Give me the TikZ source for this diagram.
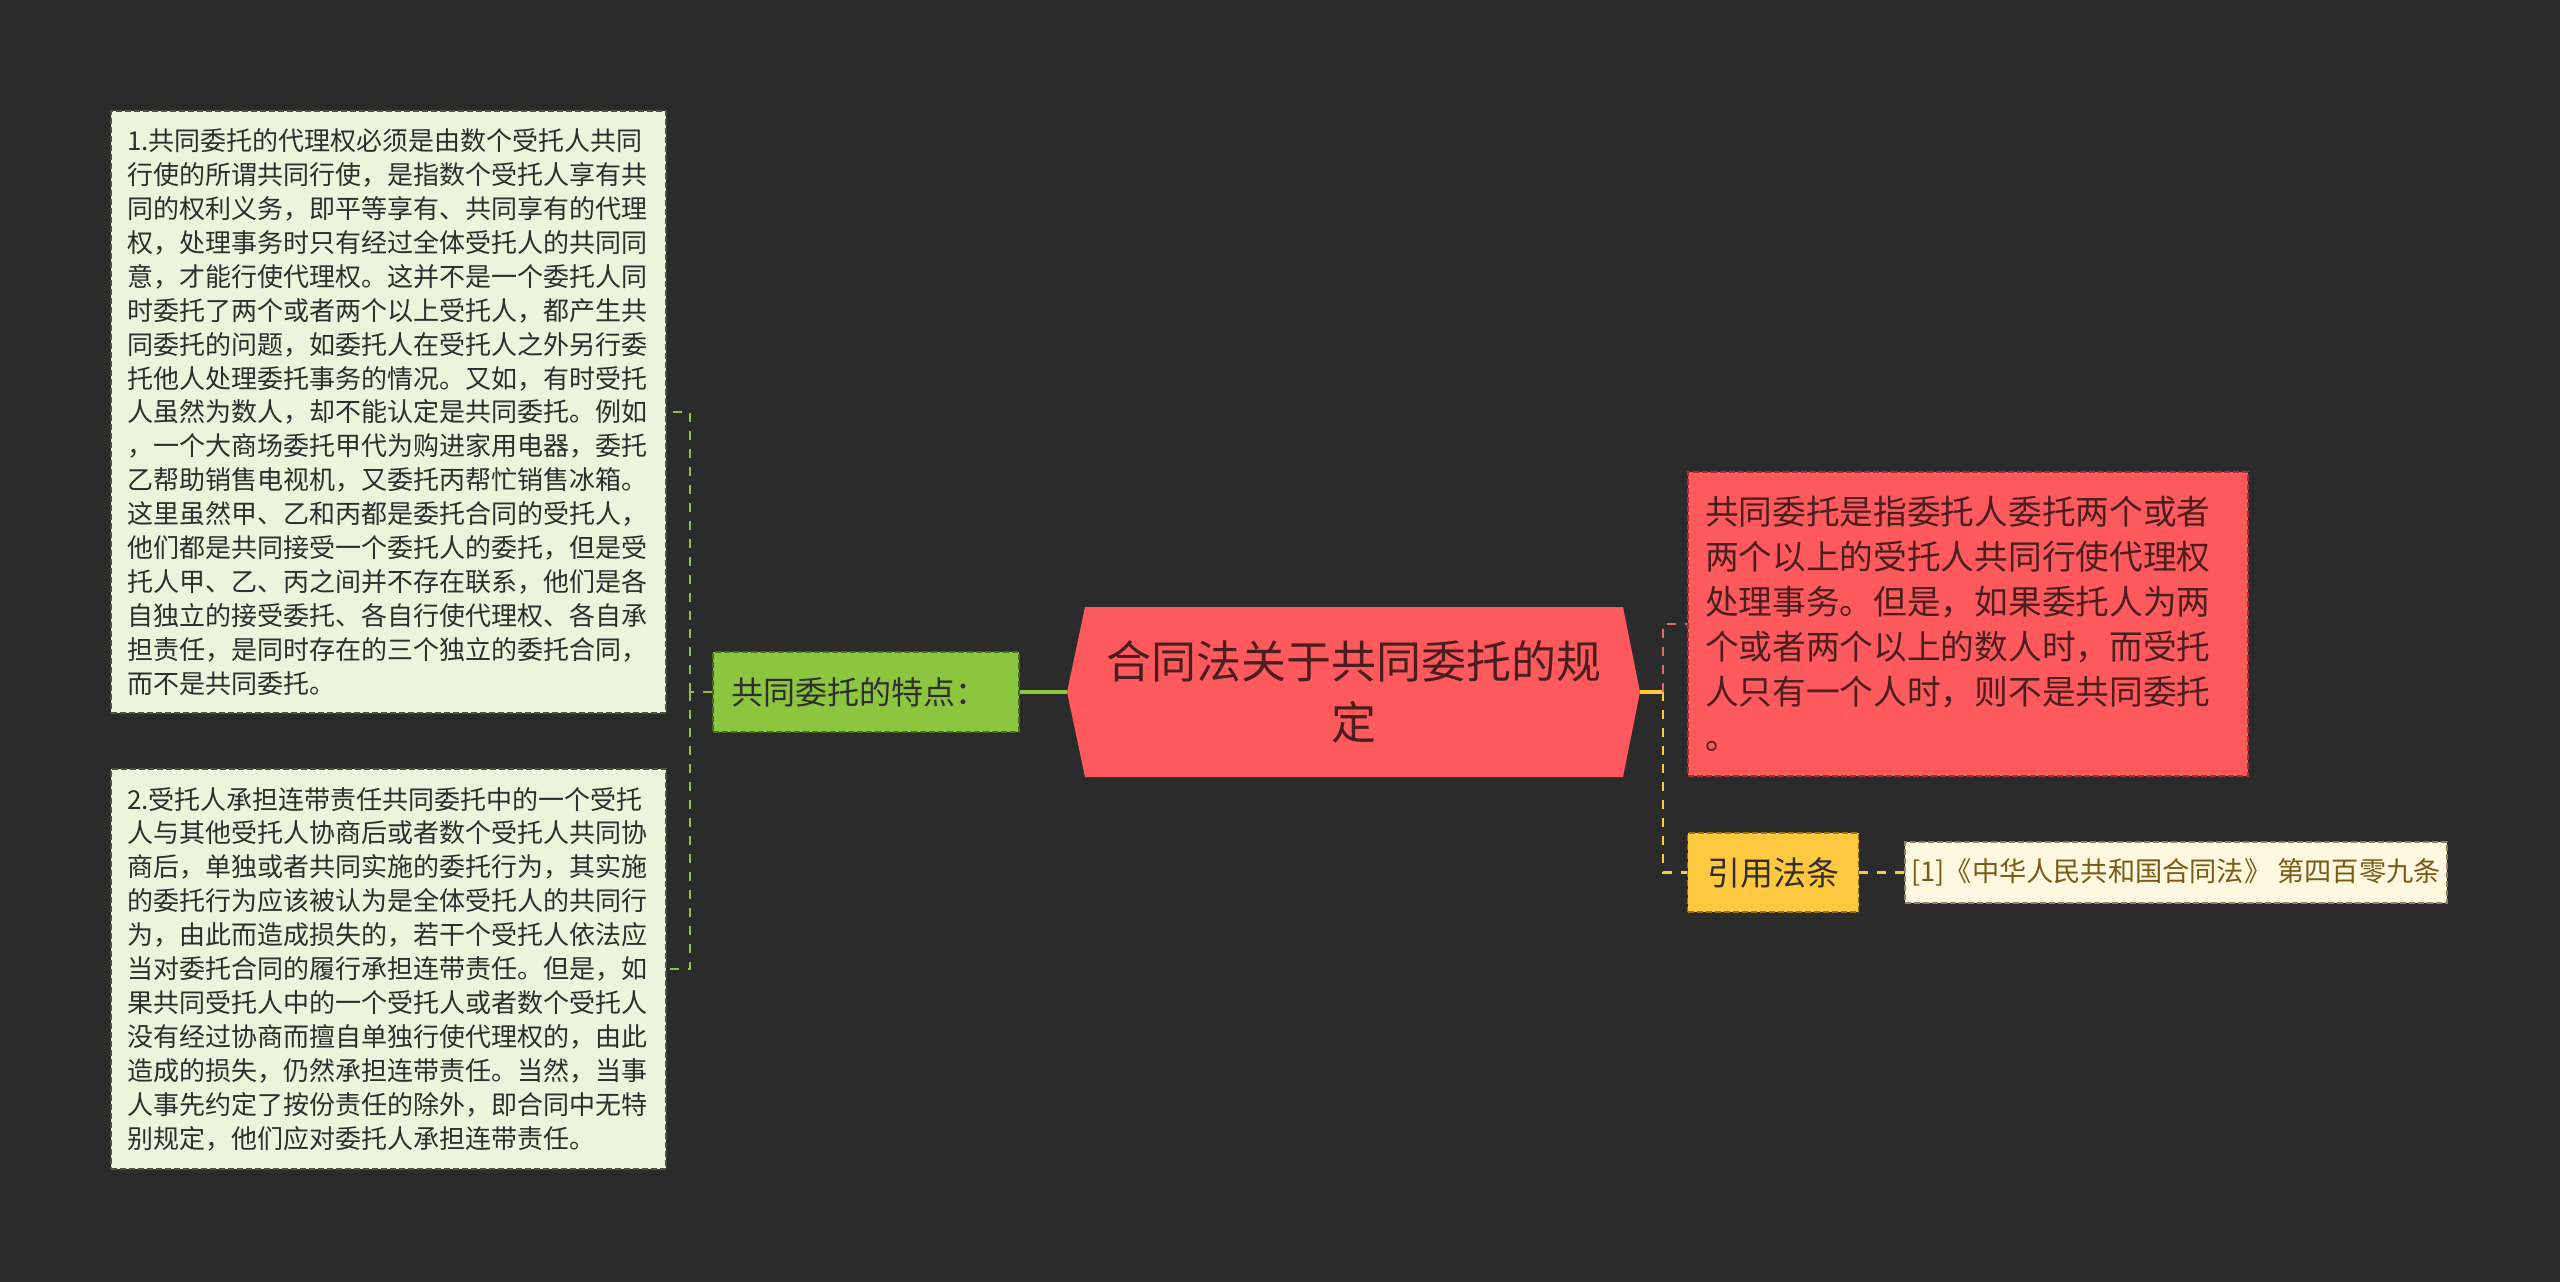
\documentclass[tikz,border=0pt]{standalone}
\usepackage{fontspec}
\setmainfont{Noto Sans CJK SC}
\definecolor{bg}{HTML}{2B2B2B}
\definecolor{leaffill}{HTML}{EAF5DC}
\definecolor{leafborder}{HTML}{4A5540}
\definecolor{textdark}{HTML}{2E2E2E}
\definecolor{featfill}{HTML}{8CC63F}
\definecolor{featborder}{HTML}{466E18}
\definecolor{rootfill}{HTML}{FE5A5E}
\definecolor{roottext}{HTML}{4A1E1F}
\definecolor{redborder}{HTML}{9E3236}
\definecolor{yelfill}{HTML}{FFC93F}
\definecolor{yelborder}{HTML}{9A720E}
\definecolor{citefill}{HTML}{FFF8E1}
\definecolor{citeborder}{HTML}{8E8060}
\definecolor{citetext}{HTML}{7A5A14}
\definecolor{gline}{HTML}{8CC63F}
\definecolor{rline}{HTML}{E06A70}
\definecolor{yline}{HTML}{FFC93F}
\begin{document}
\begin{tikzpicture}[x=1pt,y=-1pt,
  boxline/.style={dashed, dash pattern=on 6pt off 3pt, line width=1.8pt},
  leafbox/.style={boxline, draw=leafborder, fill=leaffill, text=textdark, inner sep=0pt,
     align=left, font=\fontsize{26}{33.9}\selectfont, minimum width=555pt},
  featbox/.style={boxline, draw=featborder, fill=featfill, text=textdark, inner sep=0pt,
     align=left, font=\fontsize{32}{40}\selectfont, minimum width=306pt, minimum height=80pt, text width=270pt},
  redbox/.style={boxline, draw=redborder, fill=rootfill, text=roottext, inner sep=0pt,
     align=left, font=\fontsize{33.7}{45}\selectfont, minimum width=560pt, minimum height=304pt, text width=526pt},
  yelbox/.style={boxline, draw=yelborder, fill=yelfill, text=textdark, inner sep=0pt,
     align=center, font=\fontsize{33}{40}\selectfont, minimum width=171pt, minimum height=79pt},
  citebox/.style={boxline, draw=citeborder, fill=citefill, text=citetext, inner sep=0pt,
     align=center, font=\fontsize{27.2}{34}\selectfont, minimum width=542pt, minimum height=61pt},
  roottxt/.style={text=roottext, align=center, font=\fontsize{45}{61}\selectfont, inner sep=0pt},
  gdash/.style={draw=gline, line width=2.5pt, dashed, dash pattern=on 9pt off 9pt},
  rdash/.style={draw=rline, line width=2.5pt, dashed, dash pattern=on 9pt off 9pt},
  ydash/.style={draw=yline, line width=2.5pt, dashed, dash pattern=on 9pt off 9pt},
  gsolid/.style={draw=gline, line width=4pt},
  ysolid/.style={draw=yline, line width=4pt}
]
\useasboundingbox[fill=bg] (0,0) rectangle (2560,1282);

% central topic
\fill[rootfill] (1067,692) -- (1085,607) -- (1623,607) -- (1640,692) -- (1623,777) -- (1085,777) -- cycle;
\node[roottxt] (root) at (1353.5,692) {合同法关于共同委托的规\\定};
\coordinate (rootW) at (1067,692);
\coordinate (rootE) at (1640,692);

% left branch
\node[featbox] (feat) at (866,692) {共同委托的特点：};

\node[leafbox, minimum height=602pt, text width=523pt] (b1) at (388.5,412) {%
1.共同委托的代理权必须是由数个受托人共同\\
行使的所谓共同行使，是指数个受托人享有共\\
同的权利义务，即平等享有、共同享有的代理\\
权，处理事务时只有经过全体受托人的共同同\\
意，才能行使代理权。这并不是一个委托人同\\
时委托了两个或者两个以上受托人，都产生共\\
同委托的问题，如委托人在受托人之外另行委\\
托他人处理委托事务的情况。又如，有时受托\\
人虽然为数人，却不能认定是共同委托。例如\\
，一个大商场委托甲代为购进家用电器，委托\\
乙帮助销售电视机，又委托丙帮忙销售冰箱。\\
这里虽然甲、乙和丙都是委托合同的受托人，\\
他们都是共同接受一个委托人的委托，但是受\\
托人甲、乙、丙之间并不存在联系，他们是各\\
自独立的接受委托、各自行使代理权、各自承\\
担责任，是同时存在的三个独立的委托合同，\\
而不是共同委托。};

\node[leafbox, minimum height=400pt, text width=523pt] (b2) at (388.5,969) {%
2.受托人承担连带责任共同委托中的一个受托\\
人与其他受托人协商后或者数个受托人共同协\\
商后，单独或者共同实施的委托行为，其实施\\
的委托行为应该被认为是全体受托人的共同行\\
为，由此而造成损失的，若干个受托人依法应\\
当对委托合同的履行承担连带责任。但是，如\\
果共同受托人中的一个受托人或者数个受托人\\
没有经过协商而擅自单独行使代理权的，由此\\
造成的损失，仍然承担连带责任。当然，当事\\
人事先约定了按份责任的除外，即合同中无特\\
别规定，他们应对委托人承担连带责任。};

% right branch
\node[redbox] (def) at (1968,624) {%
共同委托是指委托人委托两个或者\\
两个以上的受托人共同行使代理权\\
处理事务。但是，如果委托人为两\\
个或者两个以上的数人时，而受托\\
人只有一个人时，则不是共同委托\\
。};
\node[yelbox] (law) at (1773,872.5) {引用法条};
\node[citebox] (cite) at (2176,872.5) {[1]《中华人民共和国合同法》 第四百零九条};

% connectors
\coordinate (jl) at (690,692);
\coordinate (jr) at (1663,692);
\draw[gsolid] (rootW) -- (feat.east);
\draw[gdash] (feat.west) -- (jl);
\draw[gdash] (jl) |- (b1.east);
\draw[gdash] (jl) |- (b2.east);
\draw[ysolid] (rootE) -- (jr);
\draw[rdash] (jr) |- (def.west);
\draw[ydash] (jr) |- (law.west);
\draw[ydash] (law.east) -- (cite.west);
\end{tikzpicture}
\end{document}
